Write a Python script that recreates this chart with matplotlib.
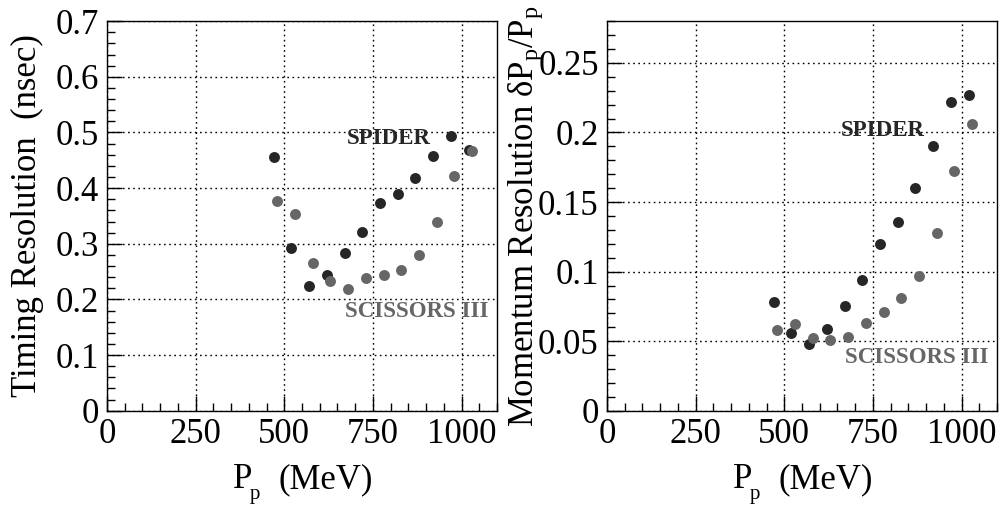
import matplotlib
matplotlib.use("Agg")
import matplotlib.pyplot as plt
from matplotlib.ticker import MultipleLocator, FuncFormatter

plt.rcParams['font.family'] = ['Liberation Serif', 'DejaVu Serif']
plt.rcParams['mathtext.fontset'] = 'custom'
plt.rcParams['mathtext.rm'] = 'Liberation Serif'
plt.rcParams['mathtext.it'] = 'Liberation Serif:italic'

# Data
spider_p = [470, 520, 570, 620, 670, 720, 770, 820, 870, 920, 970, 1020]
scissors_p = [480, 530, 580, 630, 680, 730, 780, 830, 880, 930, 980, 1030]

spider_timing = [0.456, 0.292, 0.224, 0.244, 0.284, 0.321, 0.374, 0.390, 0.419, 0.458, 0.493, 0.468]
scissors_timing = [0.377, 0.354, 0.266, 0.234, 0.218, 0.238, 0.244, 0.253, 0.279, 0.339, 0.421, 0.466]

spider_mom = [0.078, 0.056, 0.048, 0.059, 0.075, 0.094, 0.120, 0.136, 0.160, 0.190, 0.222, 0.227]
scissors_mom = [0.058, 0.062, 0.052, 0.051, 0.053, 0.063, 0.071, 0.081, 0.097, 0.128, 0.172, 0.206]

dark = '#262626'
grey = '#666666'

fig = plt.figure(figsize=(10, 5.05), dpi=100)
ax1 = fig.add_axes([0.107, 0.1867, 0.390, 0.7713])
ax2 = fig.add_axes([0.607, 0.1867, 0.390, 0.7713])

fmt = FuncFormatter(lambda v, p: '%g' % round(v, 4))

def style(ax, ymax, ymaj, ymin):
    ax.set_xlim(0, 1100)
    ax.set_ylim(0, ymax)
    ax.xaxis.set_major_locator(MultipleLocator(250))
    ax.xaxis.set_minor_locator(MultipleLocator(50))
    ax.yaxis.set_major_locator(MultipleLocator(ymaj))
    ax.yaxis.set_minor_locator(MultipleLocator(ymin))
    ax.yaxis.set_major_formatter(fmt)
    ax.xaxis.set_major_formatter(fmt)
    ax.tick_params(which='both', direction='in', top=False, right=False,
                   labelsize=25, width=1, colors='black')
    ax.tick_params(which='major', length=11, pad=6)
    ax.tick_params(which='minor', length=6)
    ax.tick_params(axis='x', which='major', pad=5)
    ax.grid(True, which='major', linestyle=(0, (1.2, 2.5)), color='black', linewidth=1.0)
    ax.set_axisbelow(True)
    for s in ax.spines.values():
        s.set_linewidth(1.0)
        s.set_color('black')
    # x-axis title "P_p  (MeV)" drawn ROOT-style with a deep subscript
    ax.text(0.323, -0.198, 'P', transform=ax.transAxes, fontsize=25,
            ha='left', va='baseline', clip_on=False)
    ax.text(0.367, -0.227, 'p', transform=ax.transAxes, fontsize=15,
            ha='left', va='baseline', clip_on=False)
    ax.text(0.441, -0.198, '(MeV)', transform=ax.transAxes, fontsize=25,
            ha='left', va='baseline', clip_on=False)

style(ax1, 0.7, 0.1, 0.02)
style(ax2, 0.28, 0.05, 0.01)

ms = 62
ax1.scatter(spider_p, spider_timing, s=ms, color=dark, zorder=3, linewidths=0)
ax1.scatter(scissors_p, scissors_timing, s=ms, color=grey, zorder=4, linewidths=0)
ax2.scatter(spider_p, spider_mom, s=ms, color=dark, zorder=3, linewidths=0)
ax2.scatter(scissors_p, scissors_mom, s=ms, color=grey, zorder=4, linewidths=0)

ax1.text(676, 0.489, 'SPIDER', fontsize=16.5, fontweight='bold', color=dark, va='center', ha='left')
ax1.text(671, 0.1775, 'SCISSORS III', fontsize=16.5, fontweight='bold', color=grey, va='center', ha='left')
ax2.text(659, 0.2017, 'SPIDER', fontsize=16.5, fontweight='bold', color=dark, va='center', ha='left')
ax2.text(670, 0.0386, 'SCISSORS III', fontsize=16.5, fontweight='bold', color=grey, va='center', ha='left')

ax1.set_ylabel('Timing Resolution  (nsec)', fontsize=25)
ax1.yaxis.set_label_coords(-0.162, 0.5)
ax2.set_ylabel('Momentum Resolution δP$_{\\mathrm{p}}$/P$_{\\mathrm{p}}$', fontsize=25)
ax2.yaxis.set_label_coords(-0.158, 0.5)

fig.savefig('out.png', dpi=100)
